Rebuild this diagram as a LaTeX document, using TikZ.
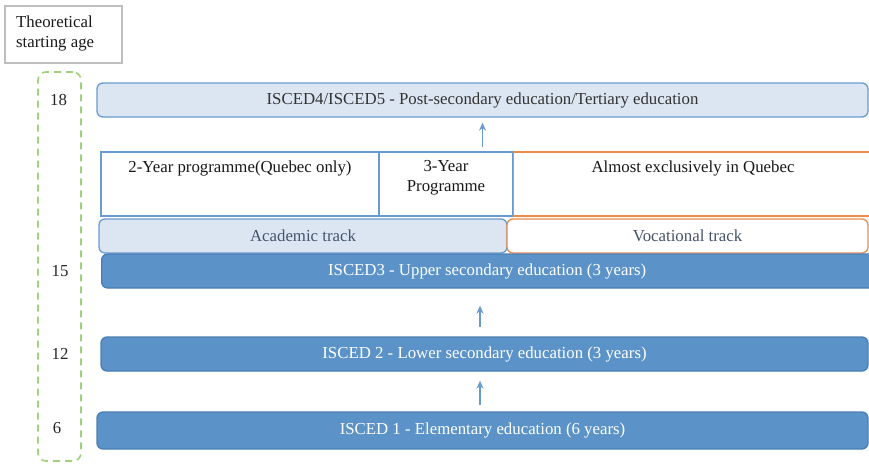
\documentclass[tikz,border=0pt]{standalone}
\usepackage{fontspec}
\setmainfont{Liberation Serif}
\usetikzlibrary{arrows.meta}
\definecolor{paleblue}{HTML}{DCE6F2}
\definecolor{lineblue}{HTML}{6A9AD0}
\definecolor{darkfill}{HTML}{5B93C9}
\definecolor{darkline}{HTML}{4A7FB5}
\definecolor{tangerine}{HTML}{EE8A4A}
\definecolor{leaf}{HTML}{A0D17E}
\definecolor{slate}{HTML}{44546A}
\tikzset{
  every node/.style={font=\fontsize{16.8}{20}\selectfont, inner sep=0pt},
  level/.style={draw=darkline, fill=darkfill, line width=1.3pt, rounded corners=6pt,
    text=white, anchor=center},
  palebox/.style={draw=lineblue, fill=paleblue, line width=1.3pt, rounded corners=6pt,
    text=black!80},
  progbox/.style={draw=lineblue, fill=white, line width=1.3pt},
  orangebox/.style={draw=tangerine, fill=white, line width=1.3pt},
  trackpale/.style={palebox, text=slate},
  trackorange/.style={draw=tangerine, fill=white, line width=1.3pt, rounded corners=6pt, text=slate},
  agetxt/.style={text=black!85, anchor=base},
  toptxt/.style={text=black!90, anchor=base},
  arr/.style={draw=lineblue, line width=1.3pt, -{Stealth[length=8pt,width=7pt]}},
}
\begin{document}
\begin{tikzpicture}[x=1pt,y=-1pt]
\useasboundingbox (0,0) rectangle (869,463);
\clip (0,0) rectangle (869,463);

% heading box
\node[draw=black!25, line width=1.3pt, minimum width=117pt, minimum height=57pt] (head) at (63.5,34.5) {};
\node[anchor=north west, align=left, text=black!90] (headtxt) at (16,15.5) {Theoretical\\starting age};

% dashed age column
\node[draw=leaf, dashed, dash pattern=on 7pt off 5pt, line width=1.6pt, rounded corners=8pt,
  minimum width=43pt, minimum height=389pt] (ages) at (59.5,266.5) {};
\node[agetxt] (a18) at (58.5,105) {18};
\node[agetxt] (a15) at (60,276) {15};
\node[agetxt] (a12) at (60,359) {12};
\node[agetxt] (a6) at (57,433) {6};

% tertiary level
\node[palebox, minimum width=771pt, minimum height=34pt] (isced4) at (482.5,100)
  {ISCED4/ISCED5 - Post-secondary education/Tertiary education};

% programme boxes
\node[progbox, minimum width=278pt, minimum height=64pt] (prog2) at (240,184) {};
\node[toptxt] (prog2txt) at (240,172) {2-Year programme(Quebec only)};
\node[progbox, minimum width=134pt, minimum height=64pt] (prog3) at (446,184) {};
\node[toptxt] (prog3a) at (446,171) {3-Year};
\node[toptxt] (prog3b) at (446,191) {Programme};
\node[orangebox, minimum width=364pt, minimum height=64pt, anchor=west] (quebec) at (513,184) {};
\node[toptxt] (quebectxt) at (693,172) {Almost exclusively in Quebec};

% tracks
\node[trackpale, minimum width=408pt, minimum height=34pt] (academic) at (303,236) {Academic track};
\node[trackorange, minimum width=361pt, minimum height=34pt] (vocational) at (687.5,236) {Vocational track};

% levels
\node[level, minimum width=780pt, minimum height=34pt, anchor=west] (isced3) at (101,271)
  {\hspace*{-9pt}ISCED3 - Upper secondary education (3 years)};
\node[level, minimum width=767pt, minimum height=34pt] (isced2) at (484.5,354)
  {ISCED 2 - Lower secondary education (3 years)};
\node[level, minimum width=771pt, minimum height=37pt] (isced1) at (482.5,430.5)
  {ISCED 1 - Elementary education (6 years)};

% progression arrows
\draw[arr, shorten <=4pt, shorten >=5pt] (prog3.north -| isced4.south) -- (isced4.south);
\draw[arr, shorten <=9pt, shorten >=17pt] ([xshift=-4.5pt]isced2.north) -- ([xshift=-4.5pt]isced2.north |- isced3.south);
\draw[arr, shorten <=6pt, shorten >=9pt] ([xshift=-2.5pt]isced1.north) -- ([xshift=-2.5pt]isced1.north |- isced2.south);
\end{tikzpicture}
\end{document}
